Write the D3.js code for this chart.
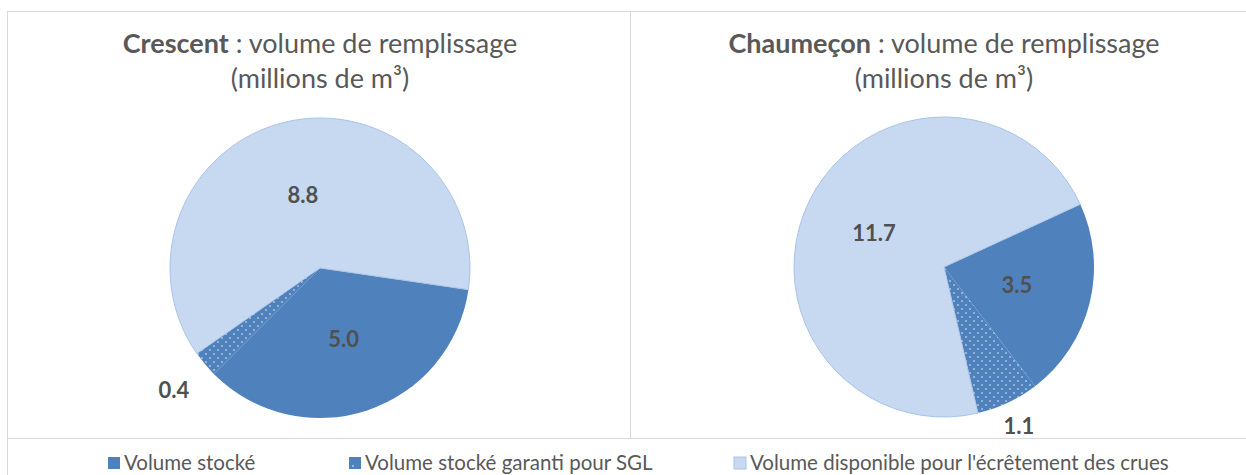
<!DOCTYPE html>
<html>
<head>
<meta charset="utf-8">
<script src="https://cdn.jsdelivr.net/npm/d3@7"></script>
<style>
  body { margin: 0; background: #fff; }
  text { font-family: Lato, "Open Sans", sans-serif; }
</style>
</head>
<body>
<div id="chart"></div>
<script>
// Data
const categories = ["Volume stocké", "Volume stocké garanti pour SGL", "Volume disponible pour l'écrêtement des crues"];
const crescentValues = [5.0, 0.4, 8.8];
const chaumeconValues = [3.5, 1.1, 11.7];
const chartNames = ["Crescent", "Chaumeçon"];

const width = 1246, height = 475;
const dark = "#4F81BD", light = "#C6D9F1";

const svg = d3.select("#chart").append("svg")
  .attr("width", width)
  .attr("height", height);

// dotted pattern for the guaranteed volume
const defs = svg.append("defs");
const pat = defs.append("pattern")
  .attr("id", "dots")
  .attr("patternUnits", "userSpaceOnUse")
  .attr("width", 8).attr("height", 8);
pat.append("rect").attr("width", 8).attr("height", 8).attr("fill", dark);
pat.append("circle").attr("cx", 2).attr("cy", 2).attr("r", 0.75).attr("fill", "#fff");
pat.append("circle").attr("cx", 6).attr("cy", 6).attr("r", 0.75).attr("fill", "#fff");

const fills = [dark, "url(#dots)", light];

// frame lines
const border = "#D9D9D9";
svg.append("line").attr("x1", 7).attr("x2", width).attr("y1", 11.5).attr("y2", 11.5).attr("stroke", border);
svg.append("line").attr("x1", 7.5).attr("x2", 7.5).attr("y1", 11).attr("y2", height).attr("stroke", border);
svg.append("line").attr("x1", 7).attr("x2", width).attr("y1", 438.5).attr("y2", 438.5).attr("stroke", border);
svg.append("line").attr("x1", 630.5).attr("x2", 630.5).attr("y1", 11).attr("y2", 438).attr("stroke", border);

const charts = [
  { name: chartNames[0], values: crescentValues, cx: 320, cy: 268, start: 98.3, labelR: [0.5, 1.27, 0.5] },
  { name: chartNames[1], values: chaumeconValues, cx: 944, cy: 267, start: 65.3, labelR: [0.5, 1.17, 0.52] }
];
const R = 150;

charts.forEach(c => {
  const g = svg.append("g").attr("transform", `translate(${c.cx},${c.cy})`);
  const start = c.start * Math.PI / 180;
  const pie = d3.pie().sort(null).startAngle(start).endAngle(start + 2 * Math.PI);
  const arcs = pie(c.values);
  const arc = d3.arc().innerRadius(0).outerRadius(R);

  g.selectAll("path")
    .data(arcs)
    .join("path")
      .attr("d", arc)
      .attr("fill", (d, i) => fills[i])
      .attr("stroke", (d, i) => i === 2 ? "#A9C4E8" : "none")
      .attr("stroke-width", 1);

  g.selectAll("text.lbl")
    .data(arcs)
    .join("text")
      .attr("class", "lbl")
      .attr("transform", (d, i) => {
        const r = R * c.labelR[i];
        const a = (d.startAngle + d.endAngle) / 2;
        return `translate(${r * Math.sin(a)},${-r * Math.cos(a)})`;
      })
      .attr("text-anchor", "middle")
      .attr("dy", "0.36em")
      .attr("fill", "#505050")
      .attr("font-size", 22)
      .attr("font-weight", "bold")
      .text(d => d3.format(".1f")(d.value));

  const title = svg.append("text")
    .attr("x", c.cx).attr("y", 53)
    .attr("text-anchor", "middle")
    .attr("fill", "#595959")
    .attr("font-size", 27);
  title.append("tspan").attr("font-weight", "bold").text(c.name);
  title.append("tspan").text(" : volume de remplissage");
  svg.append("text")
    .attr("x", c.cx).attr("y", 88)
    .attr("text-anchor", "middle")
    .attr("fill", "#595959")
    .attr("font-size", 27)
    .text("(millions de m³)");
});

// legend
const legendX = [108, 349, 734];
const leg = svg.selectAll("g.leg")
  .data(categories)
  .join("g")
    .attr("class", "leg")
    .attr("transform", (d, i) => `translate(${legendX[i]},457)`);
leg.append("rect")
  .attr("width", 12).attr("height", 12)
  .attr("fill", (d, i) => i === 2 ? light : dark)
  .attr("stroke", (d, i) => i === 2 ? "#A9C4E8" : "none");
leg.filter((d, i) => i === 1).append("circle")
  .attr("cx", 4).attr("cy", 9).attr("r", 0.8).attr("fill", "#fff");
leg.append("text")
  .attr("x", 16).attr("y", 13)
  .attr("fill", "#595959")
  .attr("font-size", 20.5)
  .text(d => d);
</script>
</body>
</html>
